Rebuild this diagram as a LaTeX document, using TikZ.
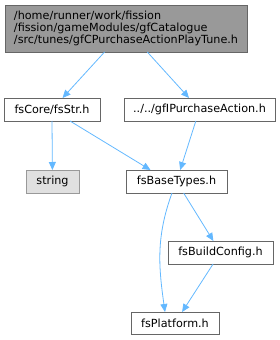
\documentclass[tikz,border=0pt]{standalone}
\usepackage{fontspec}
\setmainfont{DejaVu Sans}
\usetikzlibrary{arrows.meta}
\definecolor{edgeblue}{HTML}{63B8FF}
\definecolor{boxborder}{HTML}{666666}
\definecolor{topfill}{HTML}{999999}
\definecolor{extfill}{HTML}{E0E0E0}
\definecolor{extborder}{HTML}{999999}
\tikzset{
  filebox/.style={draw=boxborder, fill=white, line width=0.8pt, inner sep=0pt, outer sep=0pt,
    font=\fontsize{11.2}{11.8}\selectfont, text=black},
  dep/.style={draw=edgeblue, line width=0.8pt, -{Triangle[length=8pt,width=7pt]}},
}
\begin{document}
\begin{tikzpicture}[x=1pt,y=-1pt]
\useasboundingbox (0,0) rectangle (280,340);
\node[filebox, fill=topfill, minimum width=242pt, minimum height=47pt, align=left] (top) at (126,28.5)
  {/home/runner/work/fission\\/fission/gameModules/gfCatalogue\\/src/tunes/gfCPurchaseActionPlayTune.h};
\node[filebox, minimum width=96pt, minimum height=23pt] (fsstr) at (52,109.5) {fsCore/fsStr.h};
\node[filebox, minimum width=151pt, minimum height=23pt] (gfi) at (199.5,109.5) {../../gfIPurchaseAction.h};
\node[filebox, draw=extborder, fill=extfill, minimum width=53pt, minimum height=23pt] (string) at (52.5,181.5) {string};
\node[filebox, minimum width=101pt, minimum height=23pt] (fsbt) at (176.5,181.5) {fsBaseTypes.h};
\node[filebox, minimum width=105pt, minimum height=23pt] (fsbc) at (220.5,252.5) {fsBuildConfig.h};
\node[filebox, minimum width=88pt, minimum height=22pt] (fsplat) at (175,323) {fsPlatform.h};
\draw[dep] (top) -- (fsstr);
\draw[dep] (top) -- (gfi);
\draw[dep] (fsstr.south) -- (string);
\draw[dep] ([xshift=18pt]fsstr.south) -- ([xshift=-26pt]fsbt.north);
\draw[dep] (gfi) -- (fsbt);
\draw[dep] ([xshift=-4.5pt]fsbt.south) to[out=-110,in=98] ([xshift=-10pt]fsplat.north);
\draw[dep] (fsbt) -- (fsbc);
\draw[dep] (fsbc) -- (fsplat);
\end{tikzpicture}
\end{document}
